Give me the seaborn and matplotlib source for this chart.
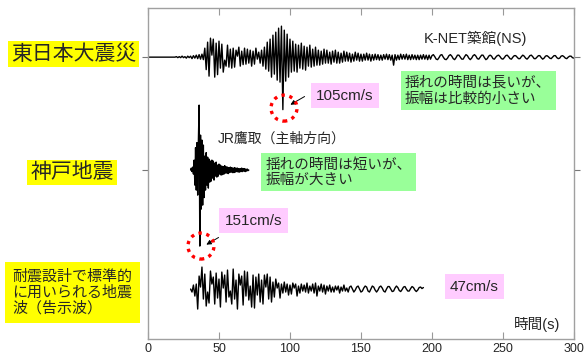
import numpy as np
import pandas as pd
import matplotlib.pyplot as plt
import seaborn as sns
from matplotlib.patches import Ellipse

# --- waveform values (cm/s) ---
# 東日本大震災 K-NET築館(NS), 1 s steps from t=0 to 300
tohoku_start, tohoku_step = 0, 1.0
tohoku_vel = [
    0, 0, 0, 0, 0, 0, 0, 0, 0, 0,
    0, 0, 0, 0, 0, 0, 0, 0, 0, 0,
    1, -1, 1, -1, 2, -1, 1, -2, 2, -1,
    2, -3, 3, -2, 4, -3, 5, -4, 6, -5,
    18, -25, 30, -38, 38, 4, 36, -40, 28, -35,
    32, -22, 26, -30, -6, -18, 24, -20, 16, -22,
    18, -20, 14, 2, 20, -18, 12, -15, 18, -14,
    16, -12, 14, -18, 12, -14, 18, -4, 10, -12,
    14, -18, 20, -24, 30, -28, 36, -40, 44, -34,
    50, -46, 58, -50, 62, -105, 54, -48, 46, -40,
    36, -30, 32, -28, 26, -30, 24, -22, 28, -24,
    22, -26, 20, -18, 24, -20, 16, -18, 20, -16,
    14, -16, 12, -14, 16, -12, 14, -12, 10, -14,
    12, -10, 14, -12, 10, -12, 8, -10, 12, -8,
    10, -8, 8, -10, 6, -8, 10, -6, 8, -8,
    6, -8, 6, -6, 8, -6, 6, -8, 5, -6,
    6, -5, 5, -6, 4, -6, 5, -4, 6, -5,
    5, -6, 4, -16, 5, -6, 4, -5, 6, -4,
    5, -4, 6, -5, 4, -5, 5, -4, 4, -5,
    4, -5, 4, -4, 5, -4, 4, -5, 4, -4,
    3, 5, 1, -4, -5, -1, 4, 5, 0, -4,
    -5, -2, 3, 5, 2, -3, -5, -1, 4, 4,
    0, -4, -4, 1, 5, 3, -2, -5, -2, 3,
    5, 2, -3, -4, 0, 4, 4, -1, -5, -3,
    2, 4, 2, -3, -4, 0, 3, 4, 1, -3,
    -4, -1, 3, 4, 1, -3, -4, 0, 3, 3,
    0, -3, -3, 1, 4, 2, -2, -4, -1, 3,
    4, 1, -3, -3, 0, 3, 3, -1, -4, -2,
    2, 3, 1, -2, -3, 0, 3, 3, -1, -3,
    -2, 2, 3, 1, -2, -3, 0, 2, 2, -1, -2,
]

# 神戸地震 JR鷹取(主軸方向), 0.5 s steps from t=30
kobe_start, kobe_step = 30.0, 0.5
kobe_vel = [
    0, 4, -3, 6, -8, 20, -30, 45, -40, 55,
    -50, 60, 130, -152, 70, -78, 60, -70, 50, -55,
    28, -40, 35, -30, 26, -36, 22, -24, 18, -22,
    20, -16, 18, -20, 14, -12, 16, -14, 10, -12,
    12, -8, 10, -10, 8, -9, 7, -8, 9, -6,
    7, -6, 6, -7, 5, -5, 6, -4, 5, -5,
    4, -5, 5, -4, 4, -3, 4, -4, 3, -4,
    3, -3, 4, -3, 3, -2, 3, -3, 2, -2,
    2, -1, 0,
]

# 告示波, 1 s steps from t=30
kokuji_start, kokuji_step = 30.0, 1.0
kokuji_vel = [
    0, -6, 8, -14, 10, -40, 26, 4, 44, -20,
    30, -34, -6, -28, 36, 10, 24, -30, 32, -18,
    20, -36, 34, 2, 28, -26, 38, -16, -4, -30,
    40, -20, 18, -40, 30, 8, 26, -32, 36, -14,
    34, -22, 6, -36, 28, -38, 24, -12, 30, -26,
    18, -30, 28, 4, 30, -20, 24, -26, 14, -16,
    20, 2, 12, -18, 10, -8, 14, -6, 10, -12,
    8, -10, 12, 2, 10, -14, 6, -8, 10, -4,
    8, -6, 12, -8, 6, -4, 10, -8, 12, -14,
    6, -4, 10, -6, 8, -10, 6, -4, 8, -6,
    4, -6, 6, -2, 6, -8, 4, -4, 8, -4,
    2, -6, 4, 6, 0, -6, -2, 4, 6, 0,
    -6, -4, 2, 6, 4, -4, -6, 0, 6, 4,
    -2, -6, -2, 4, 6, 2, -4, -6, 0, 5,
    5, 0, -5, -4, 2, 6, 3, -3, -5, -1,
    4, 5, 0, -4, -4, 1, 5, 3, -2, -5,
    -2, 3, 4, 1, 3,
]

x_ticks = [0, 50, 100, 150, 200, 250, 300]

# vertical offsets of each trace baseline (cm/s)
offsets = {"tohoku": 0, "kobe": -226, "kokuji": -464}


def trace_frame(start, step, values, offset):
    t = start + step * np.arange(len(values))
    return pd.DataFrame({"time": t, "vel": np.array(values, dtype=float) + offset})


sns.set_style("white")
plt.rcParams["font.family"] = ["Liberation Sans", "Noto Sans CJK JP", "DejaVu Sans"]

fig = plt.figure(figsize=(5.85, 3.55), dpi=100)
ax = fig.add_axes([0.253, 0.045, 0.728, 0.932])

for (start, step, vals, key) in [
    (tohoku_start, tohoku_step, tohoku_vel, "tohoku"),
    (kobe_start, kobe_step, kobe_vel, "kobe"),
    (kokuji_start, kokuji_step, kokuji_vel, "kokuji"),
]:
    df = trace_frame(start, step, vals, offsets[key])
    sns.lineplot(data=df, x="time", y="vel", ax=ax, color="black",
                 linewidth=1.0, estimator=None, sort=False)

ax.set_xlim(0, 300)
ax.set_ylim(-564, 98)
ax.set_xticks(x_ticks)
ax.set_xticklabels([str(v) for v in x_ticks], fontsize=9)
ax.set_yticks([offsets["tohoku"], offsets["kobe"]])
ax.set_yticklabels([])
ax.set_xlabel("")
ax.set_ylabel("")
ax.tick_params(axis="x", direction="in", top=True, bottom=True, length=5,
               color="#999999", pad=3)
ax.tick_params(axis="y", direction="out", left=True, right=True, length=4,
               color="#777777")
for s in ax.spines.values():
    s.set_color("#a0a0a0")
    s.set_linewidth(1)

# labels inside the axes
ax.text(231, 38, "K-NET築館(NS)", fontsize=10.5, ha="center", va="center")
ax.text(49, -164, "JR鷹取（主軸方向）", fontsize=10, ha="left", va="center")
ax.text(274, -534, "時間(s)", fontsize=10.5, ha="center", va="center")

green = "#99ff99"
pink = "#ffccff"
ax.text(181, -67, "揺れの時間は長いが、\n振幅は比較的小さい", fontsize=10.5,
        ha="left", va="center", linespacing=1.15,
        bbox=dict(boxstyle="square,pad=0.3", fc=green, ec="none"))
ax.text(83, -230, "揺れの時間は短いが、\n振幅が大きい", fontsize=10.5,
        ha="left", va="center", linespacing=1.15,
        bbox=dict(boxstyle="square,pad=0.3", fc=green, ec="none"))

for (tx, ty, label) in [(138.7, -77, "105cm/s"), (74.3, -327, "151cm/s"),
                        (230, -459, "47cm/s")]:
    ax.text(tx, ty, label, fontsize=11, ha="center", va="center",
            bbox=dict(boxstyle="square,pad=0.35", fc=pink, ec="none"))

# red dotted circles around peaks and arrows
for (cx, cy) in [(95.8, -102), (37.3, -378)]:
    ax.add_patch(Ellipse((cx, cy), 18.3, 52, fill=False, ec="red",
                         lw=2.4, ls=(0, (1, 1.4)), zorder=5))
ax.annotate("", xy=(98.6, -98), xytext=(112, -76),
            arrowprops=dict(arrowstyle="-|>", color="black", lw=0.7,
                            mutation_scale=7))
ax.annotate("", xy=(39.4, -378), xytext=(51.4, -358),
            arrowprops=dict(arrowstyle="-|>", color="black", lw=0.7,
                            mutation_scale=7))

# yellow labels on the left
yellow = "#ffff00"
fig.text(0.126, 0.848, "東日本大震災", fontsize=15, ha="center", va="center",
         bbox=dict(boxstyle="square,pad=0.15", fc=yellow, ec="none"))
fig.text(0.123, 0.514, "神戸地震", fontsize=15, ha="center", va="center",
         bbox=dict(boxstyle="square,pad=0.15", fc=yellow, ec="none"))
fig.text(0.021, 0.176, "耐震設計で標準的\nに用いられる地震\n波（告示波）", fontsize=10.8,
         ha="left", va="center", linespacing=1.1,
         bbox=dict(boxstyle="square,pad=0.5", fc=yellow, ec="none"))

fig.savefig("out.png", dpi=100)
